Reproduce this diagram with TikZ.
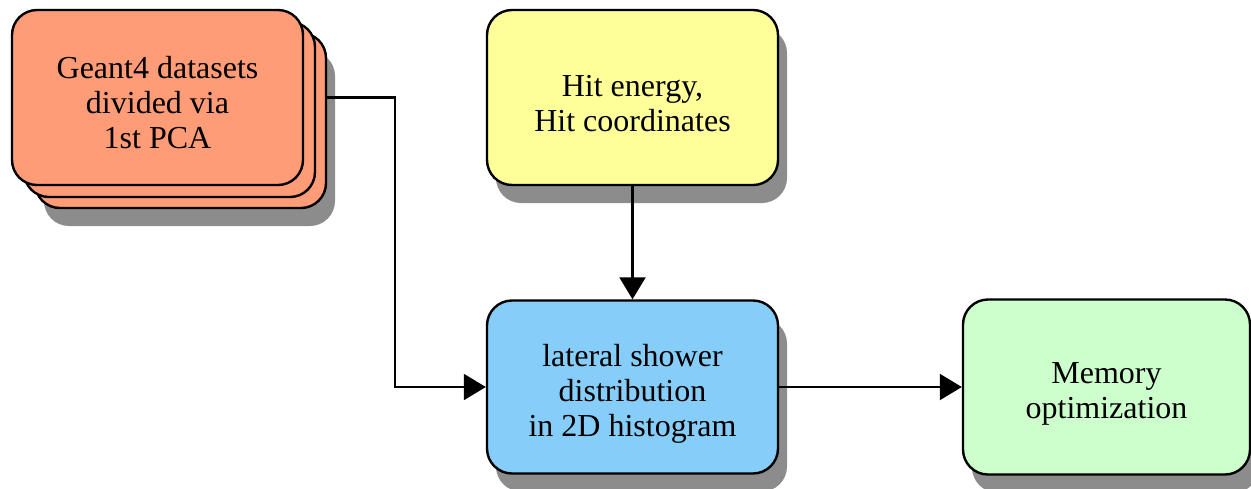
\documentclass[tikz,border=0pt]{standalone}
\usepackage{fontspec}
\setmainfont{Liberation Serif}
\usetikzlibrary{arrows.meta,shadows,calc}
\definecolor{orangebox}{HTML}{FF9C78}
\definecolor{yellowbox}{HTML}{FFFF99}
\definecolor{bluebox}{HTML}{87CDF9}
\definecolor{greenbox}{HTML}{CCFFCC}
\definecolor{shadowgray}{HTML}{8C8C8C}
\begin{document}
\begin{tikzpicture}[x=0.5pt,y=-0.5pt,
  box/.style={draw=black, line width=1.2pt, rounded corners=12.5pt,
    minimum width=145.5pt, minimum height=87.5pt, align=center, inner sep=0pt},
  txt/.style={font=\fontsize{16pt}{17.5pt}\selectfont, align=center, inner sep=0pt},
  shad/.style={drop shadow={shadow xshift=4.5pt, shadow yshift=-9pt, fill=shadowgray, opacity=1}},
  conn/.style={draw=black, line width=1.1pt},
  arr/.style={conn, -{Triangle[length=11pt,width=13pt]}}
]
\useasboundingbox (0,0) rectangle (1251,488);
% stacked Geant4 boxes
\node[box, shad, fill=orangebox] (stack3) at (180.5,120.5) {};
\node[box, fill=orangebox] (stack2) at (169.5,109.5) {};
\node[box, fill=orangebox] (front) at (157.5,97.5) {};
\node[txt] (fronttxt) at (157.5,103) {Geant4 datasets\\divided via\\1st PCA};
% other boxes
\node[box, shad, fill=yellowbox] (hit) at (632.5,97.5) {};
\node[txt] (hittxt) at (632.5,104) {Hit energy,\\Hit coordinates};
\node[box, shad, fill=bluebox, minimum height=86.5pt] (lat) at (632.5,387) {};
\node[txt] (lattxt) at (632.5,394) {lateral shower\\distribution\\in 2D histogram};
\node[box, shad, fill=greenbox, minimum width=143.5pt] (mem) at (1106.5,387) {};
\node[txt] (memtxt) at (1106.5,394) {Memory\\optimization};
% connectors
\coordinate (bend) at (395,97.5);
\draw[arr] (front.east -| stack3.east) -- (bend) |- (lat.west);
\draw[arr] (hit.south) -- (lat.north);
\draw[arr] (lat.east) -- (mem.west);
\end{tikzpicture}
\end{document}
